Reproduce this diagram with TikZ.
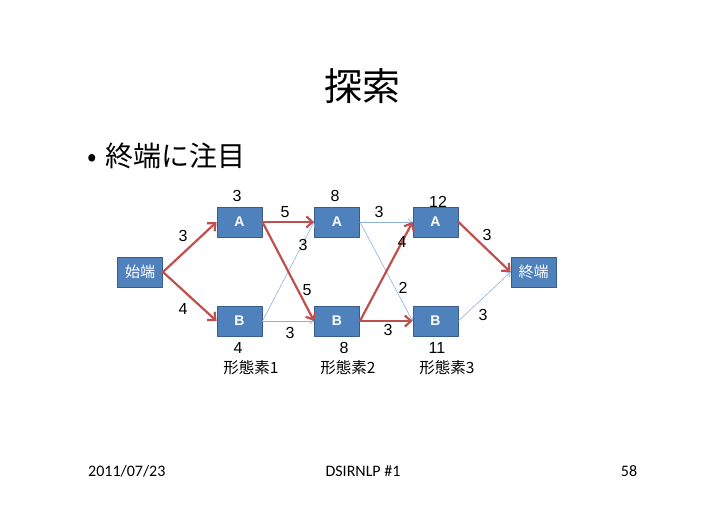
\documentclass[tikz,border=0pt]{standalone}
\usepackage{fontspec}
\setmainfont{Liberation Sans}
\newfontfamily\cjk{Noto Sans CJK JP}
\newfontfamily\footfont{Carlito}
\usetikzlibrary{arrows.meta}
\definecolor{boxfill}{HTML}{4F81BD}
\definecolor{boxline}{HTML}{385D8A}
\definecolor{bestline}{HTML}{C0504D}
\definecolor{otherline}{HTML}{8DB0DB}
\tikzset{
  morph/.style={draw=boxline,fill=boxfill,line width=0.9pt,minimum width=45pt,minimum height=30pt,inner sep=0pt,text=white,font=\bfseries\fontsize{14}{14}\selectfont},
  termbox/.style={morph,font=\cjk\fontsize{15}{15}\selectfont},
  best/.style={draw=bestline,line width=2.2pt,-{Straight Barb[length=6pt,width=11pt,line width=2.2pt]}},
  other/.style={draw=otherline,line width=0.6pt,-{Straight Barb[length=4pt,width=6pt]}},
  wlab/.style={font=\fontsize{16}{16}\selectfont,inner sep=0pt},
  poslab/.style={font=\cjk\fontsize{15.5}{15.5}\selectfont,inner sep=0pt}
}
\begin{document}
\begin{tikzpicture}[x=1pt,y=-1pt,line cap=round,line join=round]
  \useasboundingbox (0,0) rectangle (728,515);
  % title and bullet
  \node[font=\cjk\fontsize{38}{38}\selectfont,inner sep=0pt] (title) at (362,86) {探索};
  \node[font=\cjk\fontsize{28}{28}\selectfont,anchor=west,inner sep=0pt] (bullet) at (87,156) {•\hspace{9pt}終端に注目};
  % lattice
  \node[termbox] (bos) at (140,272) {始端};
  \node[morph] (a1) at (239.5,222) {A};
  \node[morph] (b1) at (239.5,321) {B};
  \node[morph] (a2) at (337,222) {A};
  \node[morph] (b2) at (337,321) {B};
  \node[morph] (a3) at (435.5,222) {A};
  \node[morph] (b3) at (435.5,321) {B};
  \node[termbox] (eos) at (533.5,272) {終端};
  \draw[other] (b1.east) -- (a2.west);
  \draw[other] (b1.east) -- (b2.west);
  \draw[other] (a2.east) -- (a3.west);
  \draw[other] (a2.east) -- (b3.west);
  \draw[other] (b3.east) -- (eos.west);
  \draw[best] (bos.east) -- (a1.west);
  \draw[best] (bos.east) -- (b1.west);
  \draw[best] (a1.east) -- (a2.west);
  \draw[best] (a1.east) -- (b2.west);
  \draw[best] (b2.east) -- (a3.west);
  \draw[best] (b2.east) -- (b3.west);
  \draw[best] (a3.east) -- (eos.west);
  % edge costs
  \node[wlab] at (183,236) {3};
  \node[wlab] at (183,309) {4};
  \node[wlab] at (285,212) {5};
  \node[wlab] at (307,290) {5};
  \node[wlab] at (303,245) {3};
  \node[wlab] at (290,333) {3};
  \node[wlab] at (379,212) {3};
  \node[wlab] at (403,288) {2};
  \node[wlab] at (402,242) {4};
  \node[wlab] at (388,330) {3};
  \node[wlab] at (487,235) {3};
  \node[wlab] at (483,315) {3};
  % node costs
  \node[wlab] at (237,196) {3};
  \node[wlab] at (335,196) {8};
  \node[wlab] at (438,202) {12};
  \node[wlab] at (238,348) {4};
  \node[wlab] at (344,348) {8};
  \node[wlab] at (437,348) {11};
  \node[poslab] at (251,368) {形態素1};
  \node[poslab] at (348,368) {形態素2};
  \node[poslab] at (447,368) {形態素3};
  % footer
  \node[font=\footfont\fontsize{16}{16}\selectfont,anchor=west,inner sep=0pt] (date) at (88,471) {2011/07/23};
  \node[font=\footfont\fontsize{16}{16}\selectfont,inner sep=0pt] (event) at (363,471) {DSIRNLP \#1};
  \node[font=\footfont\fontsize{16}{16}\selectfont,inner sep=0pt] (page) at (629,471) {58};
\end{tikzpicture}
\end{document}
